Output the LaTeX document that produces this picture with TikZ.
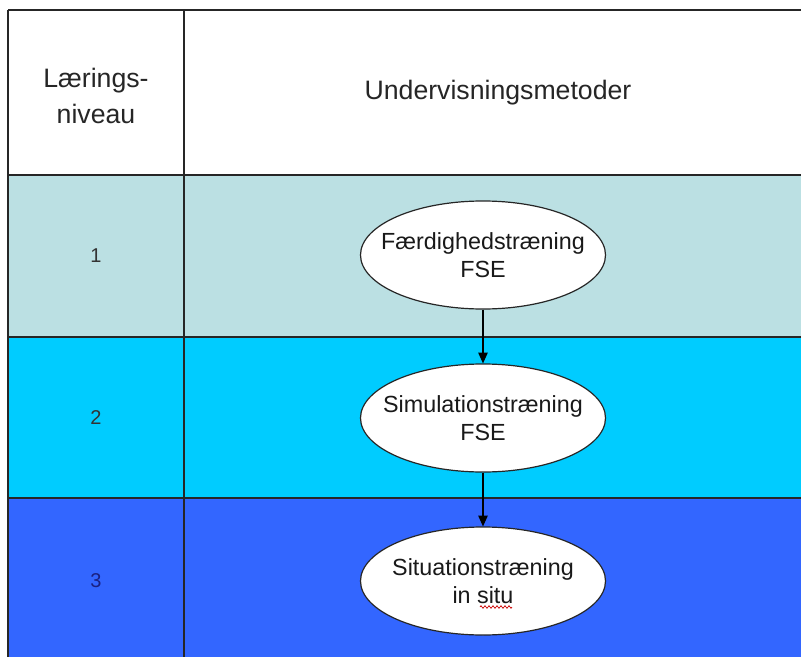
\documentclass[tikz,border=0pt]{standalone}
\usepackage{fontspec}
\setmainfont{Liberation Sans}
\usetikzlibrary{shapes.geometric,arrows.meta,decorations.pathmorphing}
\definecolor{rowA}{HTML}{BBE0E3}
\definecolor{rowB}{HTML}{00CCFF}
\definecolor{rowC}{HTML}{3366FF}
\definecolor{navytext}{HTML}{1A2080}
\tikzset{
  gridline/.style={draw=black!85, line width=1.1pt},
  headtext/.style={font=\fontsize{20}{27}\selectfont, align=center, text=black!85, inner sep=0pt},
  numtext/.style={font=\fontsize{15}{17}\selectfont, inner sep=0pt},
  methodtext/.style={align=center, font=\fontsize{17.5}{21}\selectfont, text=black!90, inner sep=0pt},
  method/.style={ellipse, draw=black!85, fill=white, line width=0.9pt, minimum width=183.75pt, minimum height=81pt, inner sep=0pt},
  flow/.style={draw=black, line width=0.9pt, -{Triangle[length=8pt,width=7pt]}},
  spellwave/.style={draw=red!80!black, line width=0.5pt, decorate, decoration={zigzag, amplitude=1pt, segment length=3pt}}
}
\begin{document}
\begin{tikzpicture}[x=0.75pt,y=-0.75pt]
\useasboundingbox (0,0) rectangle (801,657);
\fill[white] (0,0) rectangle (801,657);
\fill[rowA] (8,175) rectangle (801,337);
\fill[rowB] (8,337) rectangle (801,498);
\fill[rowC] (8,498) rectangle (801,657);
\draw[gridline] (8,10) -- (801,10);
\draw[gridline] (8,175) -- (801,175);
\draw[gridline] (8,337) -- (801,337);
\draw[gridline] (8,498) -- (801,498);
\draw[gridline] (8,10) -- (8,657);
\draw[gridline] (184,10) -- (184,657);

\node[headtext] (lvl) at (96,96) {Lærings-\\niveau};
\node[headtext] (meth) at (498,93) {Undervisningsmetoder};
\node[numtext, text=black!80] (n1) at (96,256) {1};
\node[numtext, text=black!80] (n2) at (96,418) {2};
\node[numtext, text=navytext] (n3) at (96,581) {3};

\node[method, label={[methodtext]center:Færdighedstræning\\FSE}] (e1) at (483,255) {};
\node[method, label={[methodtext]center:Simulationstræning\\FSE}] (e2) at (483,418) {};
\node[method, label={[methodtext]center:Situationstræning\\in situ}] (e3) at (483,581) {};

\draw[flow] (e1) -- (e2);
\draw[flow] (e2) -- (e3);
\draw[spellwave] ([shift={(-3,26)}]e3.center) -- ([shift={(29,26)}]e3.center);
\end{tikzpicture}
\end{document}
